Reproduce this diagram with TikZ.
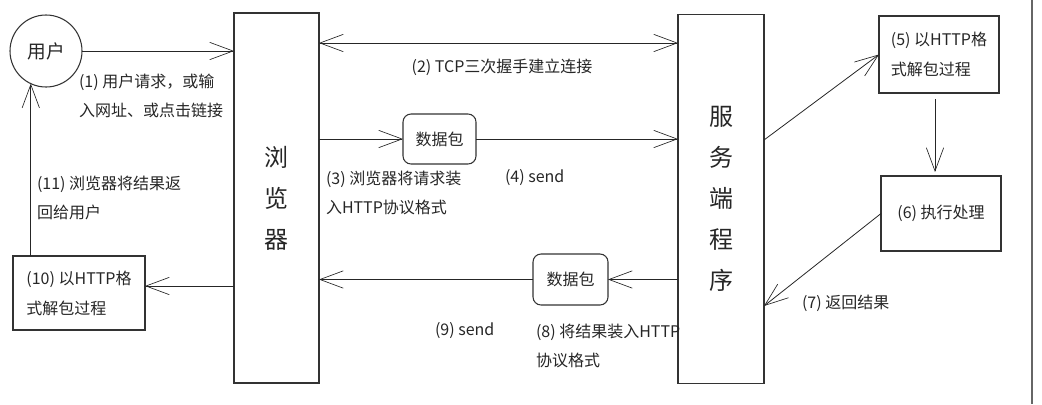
\documentclass[tikz,border=0pt]{standalone}
\usepackage{fontspec}
\setmainfont{Noto Sans CJK SC}
\usetikzlibrary{arrows.meta}
\tikzset{
  x=0.75pt, y=-0.75pt,
  every node/.style={inner sep=0pt, outer sep=0pt, text=black!85},
  lbl/.style={font=\fontsize{12}{21.75}\selectfont, align=left, anchor=west},
  boxn/.style={draw=black!80, line width=0.8pt, font=\fontsize{12}{22.5}\selectfont, align=left},
  pkt/.style={draw=black!80, line width=0.8pt, rounded corners=6pt, font=\fontsize{12}{14}\selectfont},
  tall/.style={draw=black!80, line width=0.8pt, font=\fontsize{18}{30.75}\selectfont, align=center},
  conn/.style={draw=black!85, line width=0.6pt, -{Straight Barb[length=17.5pt,width=13pt,line width=0.5pt]}},
  bconn/.style={draw=black!85, line width=0.6pt, {Straight Barb[length=17.5pt,width=13pt,line width=0.5pt]}-{Straight Barb[length=17.5pt,width=13pt,line width=0.5pt]}}
}
\begin{document}
\begin{tikzpicture}
\useasboundingbox (0,0) rectangle (1042,404);
% nodes
\node[circle, draw=black!80, line width=0.8pt, minimum size=54pt, font=\fontsize{14}{16}\selectfont] (user) at (46,51) {用户};
\node[tall, minimum width=63.75pt, minimum height=277.5pt] (browser) at (276.5,198) {浏\\览\\器};
\node[tall, minimum width=64.5pt, minimum height=276.75pt] (server) at (721,199) {服\\务\\端\\程\\序};
\node[pkt, minimum width=54.75pt, minimum height=37.5pt] (pkt1) at (439.5,139) {数据包};
\node[pkt, minimum width=56.25pt, minimum height=38.25pt] (pkt2) at (570.5,279.5) {数据包};
\node[boxn, minimum width=90pt, minimum height=57.75pt] (box5) at (939,54.5) {(5) 以HTTP格\\式解包过程};
\node[boxn, minimum width=90pt, minimum height=56.25pt] (box6) at (941,213.5) {(6) 执行处理};
\node[boxn, minimum width=99pt, minimum height=55.5pt] (box10) at (79,293) {(10) 以HTTP格\\式解包过程};
% labels
\node[lbl] (l1) at (79,95.5) {(1) 用户请求，或输\\入网址、或点击链接};
\node[lbl, anchor=center] (l2) at (502,67) {(2) TCP三次握手建立连接};
\node[lbl] (l3) at (326,193) {(3) 浏览器将请求装\\入HTTP协议格式};
\node[lbl] (l4) at (505,178) {(4) send};
\node[lbl] (l7) at (802,303) {(7) 返回结果};
\node[lbl] (l8) at (536,346) {(8) 将结果装入HTTP\\协议格式};
\node[lbl] (l9) at (435,331) {(9) send};
\node[lbl] (l11) at (37,197.5) {(11) 浏览器将结果返\\回给用户};
% helper coordinates
\coordinate (y43) at (0,43);
\coordinate (y140) at (0,140);
\coordinate (y306) at (0,306);
\coordinate (y286) at (0,286);
% connectors
\draw[conn] (user.east) -- (user.east -| browser.west);
\draw[bconn] (browser.east |- y43) -- (server.west |- y43);
\draw[conn] (browser.east |- pkt1.west) -- (pkt1.west);
\draw[conn] (pkt1.east) -- (server.west |- pkt1.east);
\draw[conn] (server.east |- y140) -- (box5.west);
\draw[conn, shorten <=4.5pt, shorten >=3pt] (box5.south -| 935,0) -- (box6.north -| 935,0);
\draw[conn] (box6.west) -- (server.east |- y306);
\draw[conn] (server.west |- pkt2.east) -- (pkt2.east);
\draw[conn] (pkt2.west) -- (browser.east |- pkt2.west);
\draw[conn] (browser.west |- y286) -- (box10.east |- y286);
\draw[conn] (box10.north -| user.245) -- (user.245);
% right border line
\draw[black!60, line width=1.1pt] (1032,0) -- (1032,404);
\end{tikzpicture}
\end{document}
